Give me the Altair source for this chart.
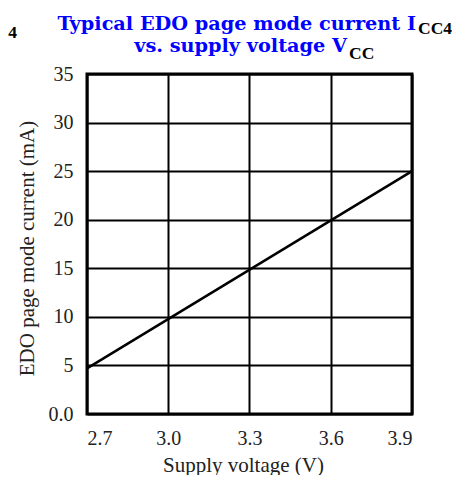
import altair as alt
import pandas as pd

# ---- data ----
voltage = [2.7, 3.9]
current = [4.7, 25.0]
x_ticks = [2.7, 3.0, 3.3, 3.6, 3.9]
y_ticks = [0, 5, 10, 15, 20, 25, 30, 35]
title_line1 = ["Typical EDO page mode current I"]
title_sub1 = ["CC4"]
title_line2 = ["vs. supply voltage V"]
title_sub2 = ["CC"]
edge_text = ["CC4"]
x_title = "Supply voltage (V)"
y_title = "EDO page mode current (mA)"

df = pd.DataFrame({"v": voltage, "i": current})

W, H = 325, 340
PL, PT = 79, 66
SERIF = "Liberation Serif"
TFONT = "DejaVu Serif"
BLUE = "#0000ff"

line = alt.Chart(df).mark_line(color="black", strokeWidth=2.5).encode(
    x=alt.X(
        "v:Q",
        scale=alt.Scale(domain=[2.7, 3.9], nice=False, zero=False),
        axis=alt.Axis(values=x_ticks, format=".1f", title=x_title,
                      labelPadding=14, titleX=156, titleY=57,
                      titleBaseline="alphabetic"),
    ),
    y=alt.Y(
        "i:Q",
        scale=alt.Scale(domain=[0, 35], nice=False),
        axis=alt.Axis(values=y_ticks, title=y_title,
                      labelExpr="datum.value == 0 ? '0.0' : datum.label",
                      labelPadding=14, titleX=-54, titleY=174,
                      titleBaseline="alphabetic"),
    ),
)


def txt(values, x, y, align, size, color, font, weight="bold"):
    d = pd.DataFrame({"t": values})
    return alt.Chart(d).mark_text(
        align=align, baseline="alphabetic", font=font, fontSize=size,
        fontWeight=weight, color=color,
    ).encode(x=alt.value(x), y=alt.value(y), text="t:N")


t1 = txt(title_line1, 416 - 8 - PL, 30 - 8 - PT, "right", 19.3, BLUE, TFONT)
s1 = txt(title_sub1, 418 - 8 - PL, 34 - 8 - PT, "left", 17.5, "black", SERIF)
t2 = txt(title_line2, 347 - 8 - PL, 52 - 8 - PT, "right", 19.3, BLUE, TFONT)
s2 = txt(title_sub2, 349 - 8 - PL, 59 - 8 - PT, "left", 17.5, "black", SERIF)
e1 = txt(edge_text, 17 - 8 - PL, 38 - 8 - PT, "right", 17.5, "black", SERIF)

chart = alt.layer(line, t1, s1, t2, s2, e1).properties(
    width=W, height=H,
    autosize=alt.AutoSizeParams(type="none"),
    padding={"left": PL, "top": PT, "right": 444 - PL - W, "bottom": 467 - PT - H},
).configure_view(
    stroke="black", strokeWidth=3
).configure_axis(
    grid=True, gridColor="black", gridWidth=2, gridOpacity=1,
    domain=False, ticks=False,
    labelFont=SERIF, labelFontSize=20, labelColor="#222",
    titleFont=SERIF, titleFontSize=21, titleFontWeight="normal", titleColor="#222",
)

chart.save("out.html", embed_options={"renderer": "svg", "actions": False})
